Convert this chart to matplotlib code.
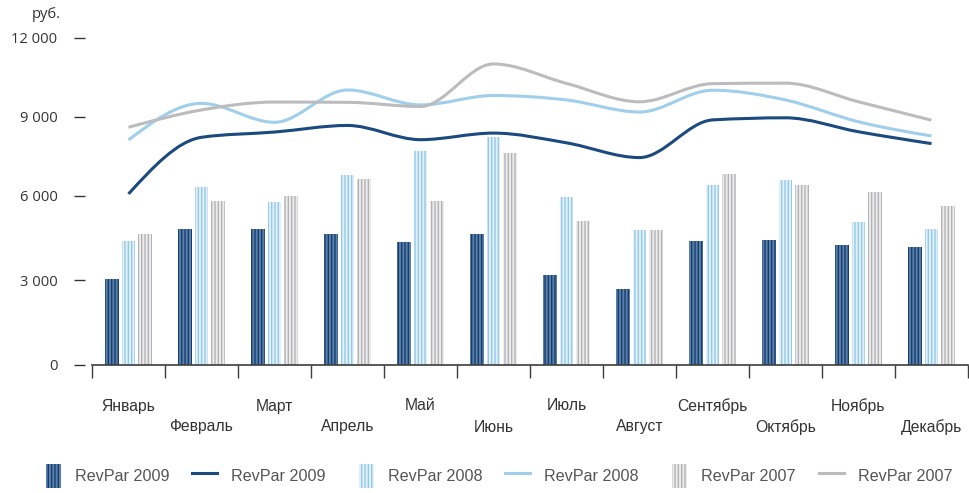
import numpy as np
import matplotlib
matplotlib.use("Agg")
import matplotlib.pyplot as plt
import matplotlib.ticker as mticker
from matplotlib.path import Path
from matplotlib.patches import PathPatch, Rectangle
from matplotlib.lines import Line2D
from matplotlib.legend_handler import HandlerPatch

# ---- data -------------------------------------------------------------
months = ['Январь', 'Февраль', 'Март', 'Апрель', 'Май', 'Июнь',
          'Июль', 'Август', 'Сентябрь', 'Октябрь', 'Ноябрь', 'Декабрь']

bars_2009 = [3030, 4810, 4800, 4630, 4360, 4630, 3180, 2690, 4390, 4420, 4240, 4170]
bars_2008 = [4390, 6330, 5760, 6780, 7700, 8210, 5960, 4780, 6390, 6580, 5060, 4800]
bars_2007 = [4630, 5820, 5980, 6630, 5790, 7620, 5090, 4780, 6810, 6390, 6140, 5630]

line_2009 = [6060, 8210, 8410, 8660, 8120, 8370, 8000, 7440, 8870, 8950, 8420, 7970]
line_2008 = [8110, 9500, 8780, 10010, 9440, 9800, 9630, 9170, 10000, 9630, 8800, 8260]
line_2007 = [8590, 9250, 9550, 9540, 9380, 11000, 10260, 9560, 10250, 10270, 9560, 8860]

y_ticks = [0, 3000, 6000, 9000, 12000]
y_tick_labels = ['0', '3 000', '6 000', '9 000', '12 000']
series_label = ['RevPar 2009', 'RevPar 2008', 'RevPar 2007']

# ---- style ------------------------------------------------------------
DARK, DARK_FACE = '#173f6e', '#5a80aa'
LIGHT, LIGHT_FACE = '#94c9e8', '#e2f1fa'
GRAY, GRAY_FACE = '#b3b3b6', '#ececec'
LINE_DARK, LINE_LIGHT, LINE_GRAY = '#1b4a7e', '#9fcfea', '#bcbcbf'

plt.rcParams['hatch.linewidth'] = 1.0
SANS = ['Liberation Sans', 'DejaVu Sans']
HUMAN = ['Open Sans', 'DejaVu Sans']

DPI = 100
fig = plt.figure(figsize=(9.69, 4.93), dpi=DPI)
W, H = 969, 493
ax_left, ax_right = 92, 968
ax_bottom, ax_top = 364.5, 37.7
ax = fig.add_axes([ax_left / W, 1 - ax_bottom / H,
                   (ax_right - ax_left) / W, (ax_bottom - ax_top) / H])

# value axis: the labelled levels are not evenly spaced, so map them piecewise
_vals = np.array(y_ticks, dtype=float)
_pos = np.array([0.0, 84.5, 169.0, 248.0, 326.8])


def _fwd(v):
    v = np.asarray(v, dtype=float)
    lo = v * _pos[1] / _vals[1]
    hi = _pos[-1] + (v - _vals[-1]) * (_pos[-1] - _pos[-2]) / (_vals[-1] - _vals[-2])
    return np.where(v <= 0, lo, np.where(v >= _vals[-1], hi, np.interp(v, _vals, _pos)))


def _inv(p):
    p = np.asarray(p, dtype=float)
    lo = p * _vals[1] / _pos[1]
    hi = _vals[-1] + (p - _pos[-1]) * (_vals[-1] - _vals[-2]) / (_pos[-1] - _pos[-2])
    return np.where(p <= 0, lo, np.where(p >= _pos[-1], hi, np.interp(p, _pos, _vals)))


ax.set_yscale('function', functions=(_fwd, _inv))

x = np.arange(len(months))
bw = 0.18
off = 0.226
b09 = ax.bar(x - off, bars_2009, bw, facecolor=DARK_FACE, edgecolor=DARK,
             hatch='|||||', linewidth=0, zorder=2)
b08 = ax.bar(x, bars_2008, bw, facecolor=LIGHT_FACE, edgecolor=LIGHT,
             hatch='|||||', linewidth=0, zorder=2)
b07 = ax.bar(x + off, bars_2007, bw, facecolor=GRAY_FACE, edgecolor=GRAY,
             hatch='|||||', linewidth=0, zorder=2)


def monotone_path(xs, ys):
    """Monotone cubic curve through the points, built from Bezier segments."""
    xs = np.asarray(xs, dtype=float)
    ys = np.asarray(ys, dtype=float)
    n = len(xs)
    h = np.diff(xs)
    s = np.diff(ys) / h
    t = np.zeros(n)
    for i in range(1, n - 1):
        s0, s1, h0, h1 = s[i - 1], s[i], h[i - 1], h[i]
        p = (s0 * h1 + s1 * h0) / (h0 + h1)
        t[i] = (np.sign(s0) + np.sign(s1)) * min(abs(s0), abs(s1), 0.5 * abs(p))
    t[0] = (3 * s[0] - t[1]) / 2
    t[-1] = (3 * s[-1] - t[-2]) / 2
    verts = [(xs[0], ys[0])]
    codes = [Path.MOVETO]
    for i in range(n - 1):
        d = h[i] / 3
        verts += [(xs[i] + d, ys[i] + d * t[i]),
                  (xs[i + 1] - d, ys[i + 1] - d * t[i + 1]),
                  (xs[i + 1], ys[i + 1])]
        codes += [Path.CURVE4] * 3
    return Path(verts, codes)


for vals, col, z in [(line_2009, LINE_DARK, 4), (line_2008, LINE_LIGHT, 5), (line_2007, LINE_GRAY, 6)]:
    ax.add_patch(PathPatch(monotone_path(x, vals), fill=False, edgecolor=col,
                           linewidth=2.2, capstyle='butt', joinstyle='round', zorder=z))

ax.set_xlim(-0.5, 11.5)
ax.set_ylim(0, 12000)

# spines
for side in ('top', 'right'):
    ax.spines[side].set_visible(False)
ax.spines['left'].set_position(('outward', 7 * 72 / DPI))
ax.spines['left'].set_visible(False)
ax.spines['bottom'].set_color('#3c3c3c')
ax.spines['bottom'].set_linewidth(1.2)

# y ticks
ax.set_yticks(y_ticks)
ax.set_yticklabels(y_tick_labels, family=HUMAN, fontsize=10.6, color='#333333')
ax.tick_params(axis='y', direction='out', length=11 * 72 / DPI, width=1.0,
               color='#333333', pad=16.5 * 72 / DPI)
ax.yaxis.set_minor_locator(mticker.NullLocator())

# x ticks: boundaries between months, names staggered below
ax.set_xticks(x)
ax.set_xticklabels([])
ax.set_xticks(np.arange(-0.5, 12, 1.0), minor=True)
ax.tick_params(axis='x', which='major', length=0)
ax.tick_params(axis='x', which='minor', direction='out', length=13 * 72 / DPI,
               width=1.0, color='#3c3c3c')
for i, m in enumerate(months):
    dy = 41.5 + 21 * (i % 2)
    ax.annotate(m, xy=(i, 0), xycoords=('data', 'axes fraction'),
                xytext=(0, -dy * 72 / DPI), textcoords='offset points',
                ha='center', va='center', fontsize=11.3, family=SANS,
                color='#333333', annotation_clip=False)

fig.text(32 / W, 1 - 18.5 / H, 'руб.', family=HUMAN, fontsize=10.6,
         color='#333333', va='baseline', ha='left')

# legend
ICON_W = 15 * 72 / DPI


def bar_icon(legend, orig_handle, xdescent, ydescent, width, height, fontsize):
    return Rectangle((-xdescent + width - ICON_W, -ydescent), ICON_W, height)


bar_handles = [b09.patches[0], b08.patches[0], b07.patches[0]]
handles = [bar_handles[0], Line2D([], [], color=LINE_DARK, lw=2.2),
           bar_handles[1], Line2D([], [], color=LINE_LIGHT, lw=2.2),
           bar_handles[2], Line2D([], [], color=LINE_GRAY, lw=2.2)]
labels = [series_label[0], series_label[0], series_label[1], series_label[1],
          series_label[2], series_label[2]]
fs = 11.6
leg = fig.legend(handles, labels, ncol=6, loc='center',
                 bbox_to_anchor=(494 / W, 1 - 476 / H), frameon=False,
                 prop={'family': SANS, 'size': fs},
                 handlelength=(25 * 72 / DPI) / fs, handleheight=(31 * 72 / DPI) / fs,
                 handletextpad=(14 * 72 / DPI) / fs, columnspacing=(23 * 72 / DPI) / fs,
                 borderpad=0, borderaxespad=0,
                 handler_map={h: HandlerPatch(patch_func=bar_icon) for h in bar_handles})
for t in leg.get_texts():
    t.set_color('#555555')

fig.savefig('out.png', dpi=DPI)
